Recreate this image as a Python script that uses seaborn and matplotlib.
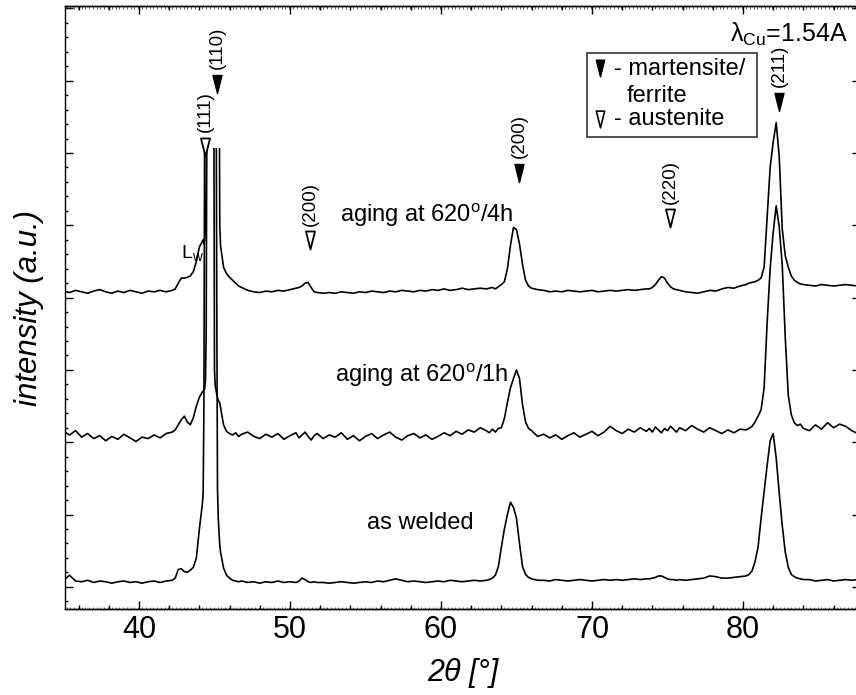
import numpy as np
import pandas as pd
import matplotlib
matplotlib.use("Agg")
import matplotlib.pyplot as plt
import seaborn as sns
from matplotlib.path import Path
from matplotlib.patches import Polygon, Rectangle
from matplotlib.ticker import MultipleLocator

# %% data (2theta scan, intensity in arbitrary units, patterns already offset)
TWO_THETA = [
    35.0, 35.4, 35.8, 36.2, 36.6, 37.0, 37.4, 37.8, 38.2, 38.6, 39.0, 39.4, 39.8, 40.2, 40.6, 41.0, 41.4, 41.8, 42.2,
    42.4, 42.6, 42.8, 43.0, 43.2, 43.4, 43.6, 43.8, 44.0, 44.2,
    44.25, 44.3, 44.35, 44.4, 44.45, 44.5, 44.55, 44.7, 44.9, 44.95, 45.0, 45.05, 45.1, 45.15, 45.2, 45.25, 45.3, 45.35, 45.4,
    45.6, 45.8, 46.0, 46.2, 46.4, 46.6, 46.8,
    47.2, 47.6, 48.0, 48.4, 48.8, 49.2, 49.6, 50.0, 50.4,
    50.6, 50.8, 51.0, 51.2, 51.4, 51.6, 51.8,
    52.2, 52.6, 53.0, 53.4, 53.8, 54.2, 54.6, 55.0, 55.4, 55.8, 56.2, 56.6, 57.0, 57.4,
    57.8, 58.2, 58.6, 59.0, 59.4, 59.8, 60.2, 60.6, 61.0, 61.4, 61.8, 62.2, 62.6, 63.0,
    63.2, 63.4, 63.6, 63.8, 64.0, 64.2, 64.4, 64.6, 64.8, 65.0, 65.2, 65.4, 65.6, 65.8, 66.0, 66.2, 66.4,
    66.8, 67.2, 67.6, 68.0, 68.4, 68.8, 69.2, 69.6, 70.0, 70.4, 70.8, 71.2, 71.6, 72.0, 72.4, 72.8, 73.2, 73.6,
    73.8, 74.0, 74.2, 74.4, 74.6, 74.8, 75.0, 75.2, 75.4, 75.6, 75.8,
    76.2, 76.6, 77.0, 77.4, 77.8, 78.2, 78.6, 79.0, 79.4, 79.8, 80.2,
    80.4, 80.6, 80.8, 81.0, 81.2, 81.4, 81.6, 81.8, 82.0, 82.2, 82.4, 82.6, 82.8, 83.0, 83.2, 83.4, 83.6, 83.8, 84.0,
    84.4, 84.8, 85.2, 85.6, 86.0, 86.4, 86.8, 87.2, 87.6,
    88.0,
]

AS_WELDED = [
    0.09, 0.16, 0.08, 0.07, 0.09, 0.06, 0.08, 0.07, 0.05, 0.07, 0.08, 0.06, 0.07, 0.05, 0.07, 0.08, 0.06, 0.08, 0.09,
    0.12, 0.24, 0.25, 0.21, 0.20, 0.23, 0.27, 0.40, 0.80, 1.15,
    1.30, 2.5, 6.6, 9.0, 10.5, 11.5, 12.2, 12.8, 12.0, 11.0, 10.0, 9.0, 7.5, 4.0, 1.35, 0.95, 0.75, 0.58, 0.48,
    0.26, 0.16, 0.12, 0.09, 0.08, 0.07, 0.08,
    0.06, 0.07, 0.05, 0.07, 0.06, 0.08, 0.06, 0.07, 0.06,
    0.08, 0.12, 0.10, 0.07, 0.06, 0.07, 0.06,
    0.06, 0.05, 0.06, 0.07, 0.06, 0.05, 0.06, 0.07, 0.06, 0.08, 0.07, 0.09, 0.11, 0.09,
    0.07, 0.08, 0.07, 0.06, 0.07, 0.08, 0.07, 0.09, 0.08, 0.07, 0.08, 0.09, 0.08, 0.09,
    0.10, 0.12, 0.16, 0.28, 0.55, 0.80, 1.00, 1.17, 1.10, 0.95, 0.60, 0.28, 0.17, 0.13, 0.11, 0.10, 0.09,
    0.09, 0.08, 0.10, 0.09, 0.08, 0.09, 0.10, 0.09, 0.08, 0.09, 0.10, 0.09, 0.10, 0.09, 0.10, 0.11, 0.10, 0.11,
    0.11, 0.12, 0.13, 0.15, 0.15, 0.13, 0.11, 0.10, 0.10, 0.09, 0.10,
    0.09, 0.10, 0.11, 0.12, 0.15, 0.14, 0.12, 0.12, 0.13, 0.14, 0.15,
    0.17, 0.22, 0.35, 0.55, 0.95, 1.32, 1.68, 2.02, 2.12, 1.78, 1.30, 0.85, 0.48, 0.27, 0.17, 0.14, 0.12, 0.11, 0.10,
    0.10, 0.08, 0.09, 0.10, 0.08, 0.09, 0.10, 0.09, 0.10,
    0.09,
]

AGED_1H = [
    2.15, 2.10, 2.16, 2.07, 2.12, 2.05, 2.09, 2.02, 2.08, 2.04, 2.11, 2.06, 2.01, 2.07, 2.05, 2.10, 2.06, 2.12, 2.14,
    2.17, 2.24, 2.31, 2.36, 2.28, 2.24, 2.34, 2.50, 2.62, 2.70,
    2.70, 2.72, 2.74, 2.85, 3.5, 7.0, 9.0, 10.5, 9.5, 7.5, 3.0, 2.78, 2.72, 2.66, 2.62, 2.58, 2.56, 2.54, 2.48,
    2.24, 2.15, 2.12, 2.10, 2.13, 2.08, 2.11,
    2.14, 2.08, 2.05, 2.11, 2.07, 2.12, 2.04, 2.09, 2.13,
    2.06, 2.10, 2.14, 2.08, 2.03, 2.09, 2.12,
    2.05, 2.10, 2.07, 2.13, 2.04, 2.09, 2.02, 2.08, 2.12, 2.05, 2.10, 2.14, 2.07, 2.03,
    2.09, 2.12, 2.06, 2.10, 2.04, 2.08, 2.13, 2.09, 2.15, 2.11, 2.17, 2.14, 2.20, 2.16,
    2.13, 2.18, 2.14, 2.19, 2.20, 2.33, 2.55, 2.75, 2.88, 3.00, 2.88, 2.52, 2.28, 2.19, 2.16, 2.12, 2.08,
    2.11, 2.06, 2.10, 2.04, 2.09, 2.13, 2.07, 2.11, 2.15, 2.09, 2.14, 2.22, 2.16, 2.12, 2.18, 2.14, 2.20, 2.15,
    2.19, 2.14, 2.21, 2.17, 2.13, 2.19, 2.16, 2.22, 2.18, 2.14, 2.20,
    2.16, 2.23, 2.18, 2.14, 2.20, 2.16, 2.12, 2.17, 2.13, 2.18, 2.17,
    2.19, 2.22, 2.28, 2.36, 2.45, 2.75, 3.65, 4.40, 4.90, 5.27, 4.98, 4.45, 3.45, 2.65, 2.38, 2.27, 2.23, 2.25, 2.19,
    2.16, 2.24, 2.18, 2.27, 2.20, 2.25, 2.22, 2.16, 2.12,
    2.10,
]

AGED_4H = [
    4.09, 4.07, 4.10, 4.08, 4.06, 4.09, 4.11, 4.08, 4.06, 4.09, 4.07, 4.10, 4.08, 4.06, 4.09, 4.08, 4.10, 4.08, 4.10,
    4.12, 4.20, 4.27, 4.27, 4.28, 4.30, 4.36, 4.50, 4.70, 4.78,
    4.80, 4.74, 4.80, 4.95, 5.6, 7.5, 9.5, 11.5, 12.0, 11.5, 11.0, 10.5, 10.0, 9.5, 9.0, 8.5, 7.8, 5.0, 4.72,
    4.42, 4.33, 4.28, 4.24, 4.20, 4.16, 4.14,
    4.10, 4.08, 4.07, 4.09, 4.08, 4.10, 4.09, 4.11, 4.13,
    4.14, 4.16, 4.20, 4.21, 4.14, 4.08, 4.07,
    4.06, 4.07, 4.06, 4.08, 4.07, 4.06, 4.08, 4.07, 4.09, 4.08, 4.07, 4.09, 4.08, 4.10,
    4.09, 4.08, 4.10, 4.09, 4.11, 4.10, 4.12, 4.10, 4.11, 4.13, 4.11, 4.12, 4.13, 4.12,
    4.13, 4.14, 4.12, 4.15, 4.18, 4.22, 4.40, 4.72, 4.97, 4.94, 4.74, 4.46, 4.24, 4.16, 4.13, 4.12, 4.11,
    4.10, 4.08, 4.09, 4.08, 4.10, 4.09, 4.08, 4.09, 4.10, 4.08, 4.09, 4.10, 4.09, 4.10, 4.11, 4.10, 4.11, 4.12,
    4.12, 4.14, 4.18, 4.24, 4.29, 4.27, 4.20, 4.15, 4.12, 4.11, 4.10,
    4.08, 4.07, 4.06, 4.08, 4.10, 4.09, 4.12, 4.14, 4.13, 4.16, 4.18,
    4.20, 4.21, 4.22, 4.24, 4.27, 4.42, 5.10, 5.80, 6.15, 6.42, 5.95, 4.95, 4.58, 4.42, 4.30, 4.24, 4.21, 4.19, 4.18,
    4.17, 4.16, 4.18, 4.17, 4.16, 4.17, 4.18, 4.17, 4.16,
    4.16,
]

SAMPLES = ["as welded", "aging at 620/1h", "aging at 620/4h"]
CURVE_LABELS = ["as welded", "aging at 620$^\\mathregular{o}$/1h", "aging at 620$^\\mathregular{o}$/4h"]
LABEL_X = [55.1, 53.0, 64.77]        # 2theta where each label sits
LABEL_Y = [0.80, 2.83, 5.05]
LABEL_HA = ["left", "left", "right"]

# reflections: (hkl), 2theta, phase, marker height
HKL = ["(111)", "(110)", "(200)", "(200)", "(220)", "(211)"]
HKL_POS = [44.37, 45.17, 51.32, 65.17, 75.17, 82.38]
HKL_PHASE = ["austenite", "martensite", "austenite", "martensite", "austenite", "martensite"]
HKL_Y = [6.08, 6.95, 4.80, 5.73, 5.10, 6.70]

CAP = 6.07   # the (110) reflections are cut off at this height

# %% plotting
sns.set_style("ticks")
plt.rcParams["font.family"] = ["Liberation Sans", "DejaVu Sans"]
plt.rcParams["mathtext.default"] = "regular"
for key in ["text.color", "axes.labelcolor", "xtick.color", "ytick.color", "axes.edgecolor"]:
    plt.rcParams[key] = "black"

df = pd.DataFrame({
    "two_theta": TWO_THETA * 3,
    "intensity": AS_WELDED + AGED_1H + AGED_4H,
    "sample": np.repeat(SAMPLES, len(TWO_THETA)),
})

fig = plt.figure(figsize=(8.56, 6.95), dpi=100)
ax = fig.add_axes([65 / 856, 86 / 695, 795 / 856, 603 / 695])

sns.lineplot(data=df, x="two_theta", y="intensity", hue="sample",
             palette=["black"] * 3, legend=False, estimator=None, sort=False,
             lw=1.2, ax=ax)

# truncate the strong (110) peaks like in the original figure
clip = Polygon([(30, -1), (95, -1), (95, 20), (46, 20), (46, CAP), (43, CAP), (43, 20), (30, 20)],
               closed=True, transform=ax.transData)
for line in ax.lines:
    line.set_clip_path(clip)

tri = Path([(-0.5, 1.0), (0.5, 1.0), (0.0, -1.0), (-0.5, 1.0)],
           [Path.MOVETO, Path.LINETO, Path.LINETO, Path.CLOSEPOLY])

for lbl, x, ph, y in zip(HKL, HKL_POS, HKL_PHASE, HKL_Y):
    if ph == "martensite":
        ax.plot([x], [y], marker=tri, ms=13, mfc="black", mec="black", mew=1.0, ls="none")
    else:
        ax.plot([x], [y], marker=tri, ms=13, mfc="white", mec="black", mew=1.3, ls="none")
    ax.annotate(lbl, (x, y), xytext=(0, 26), textcoords="offset points",
                rotation=90, ha="center", va="center", fontsize=13.5)

for lbl, x, y, ha in zip(CURVE_LABELS, LABEL_X, LABEL_Y, LABEL_HA):
    ax.text(x, y, lbl, ha=ha, va="baseline", fontsize=17)

ax.text(42.8, 4.55, "L$_\\mathregular{w}$", ha="left", va="baseline", fontsize=14)

ax.text(0.984, 0.940, "λ$_\\mathregular{Cu}$=1.54A", transform=ax.transAxes,
        ha="right", va="baseline", fontsize=18)

# legend box
ax.add_patch(Rectangle((0.6566, 0.7828), 0.2138, 0.1393, transform=ax.transAxes,
                       fill=False, ec="#333333", lw=1.2))
ax.plot([0.673], [0.897], marker=tri, ms=12, mfc="black", mec="black", ls="none",
        transform=ax.transAxes)
ax.plot([0.673], [0.812], marker=tri, ms=12, mfc="white", mec="black", mew=1.2, ls="none",
        transform=ax.transAxes)
ax.text(0.690, 0.8856, "- martensite/", transform=ax.transAxes, fontsize=17, va="baseline")
ax.text(0.7069, 0.8408, "ferrite", transform=ax.transAxes, fontsize=17, va="baseline")
ax.text(0.690, 0.8027, "- austenite", transform=ax.transAxes, fontsize=17, va="baseline")

ax.set_xlim(35.1, 87.75)
ax.set_ylim(-0.307, 8.033)
ax.xaxis.set_major_locator(MultipleLocator(10))
ax.xaxis.set_minor_locator(MultipleLocator(2))
ax.yaxis.set_major_locator(MultipleLocator(1))
ax.yaxis.set_minor_locator(MultipleLocator(0.2))
ax.tick_params(which="both", direction="in", top=True, right=True, width=1.0, color="black")
ax.tick_params(which="major", length=6)
ax.tick_params(which="minor", length=3.2)
ax.tick_params(axis="y", which="minor", right=False, length=2.5)
ax.tick_params(axis="x", labelsize=22, pad=4, labelcolor="black")
ax.tick_params(axis="y", labelleft=False)

# fine tick texture along the 2theta axes
for side in ["bottom", "top"]:
    sec = ax.secondary_xaxis(side)
    sec.set_xticks(np.arange(35.2, 88, 0.25))
    sec.tick_params(direction="in", length=1.8, width=0.6, color="#444444",
                    labelbottom=False, labeltop=False)
    sec.spines[side].set_linewidth(1.0)

for s in ax.spines.values():
    s.set_linewidth(1.0)
    s.set_color("black")

ax.set_xlabel("2θ [°]", fontsize=22, style="italic", labelpad=10, color="black")
ax.set_ylabel("intensity (a.u.)", fontsize=22.5, style="italic", color="black")
ax.yaxis.set_label_coords(-0.027, 0.5)

plt.savefig("out.png", dpi=100)
